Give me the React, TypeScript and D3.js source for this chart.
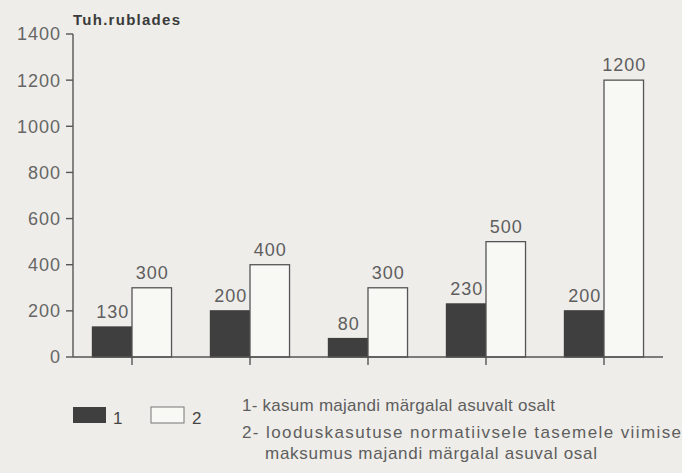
import React from "react";
import * as d3 from "d3";

const categories = ["A", "B", "C", "D", "E"];
const series1 = [130, 200, 80, 230, 200];
const series2 = [300, 400, 300, 500, 1200];
const yTicks = [0, 200, 400, 600, 800, 1000, 1200, 1400];
const seriesKeys = ["1", "2"];
const legendLines = [
  "1- kasum majandi märgalal asuvalt osalt",
  "2- looduskasutuse normatiivsele tasemele viimise",
  "maksumus majandi märgalal asuval osal",
];

const W = 682;
const H = 473;
const BG = "#eeede9";
const INK = "#555";
const TXT = "#5e5e5e";
const DARK = "#3f3f3f";
const FONT = "'Liberation Sans', Arial, Helvetica, sans-serif";

export default function App() {
  const x = d3
    .scaleBand<string>()
    .domain(categories)
    .range([73, 663])
    .paddingInner(0.33)
    .paddingOuter(0.165);
  const xs = d3.scaleBand<string>().domain(seriesKeys).range([0, x.bandwidth()]);
  const y = d3.scaleLinear().domain([0, 1400]).range([357, 34]);

  const bars: { cat: string; key: string; v: number }[] = [];
  categories.forEach((c, i) => {
    bars.push({ cat: c, key: "1", v: series1[i] });
    bars.push({ cat: c, key: "2", v: series2[i] });
  });

  return (
    <svg
      width={W}
      height={H}
      style={{ position: "absolute", left: 0, top: 0, display: "block" }}
    >
      <rect x={0} y={0} width={W} height={H} fill={BG} />
      {/* axis title */}
      <text
        x={73}
        y={25}
        fontFamily={FONT}
        fontWeight="bold"
        fontSize={15}
        fill="#3a3a3a"
        textLength={107}
        lengthAdjust="spacing"
      >
        Tuh.rublades
      </text>
      {/* y axis */}
      <line x1={73} x2={73} y1={y(1400)} y2={y(0)} stroke={INK} strokeWidth={1.4} />
      {yTicks.map((t) => (
        <g key={t}>
          <line x1={66} x2={73} y1={y(t)} y2={y(t)} stroke={INK} strokeWidth={1.4} />
          <text
            x={61}
            y={y(t)}
            dy="0.36em"
            textAnchor="end"
            fontFamily={FONT}
            fontSize={18}
            letterSpacing={1}
            fill="#666"
          >
            {t}
          </text>
        </g>
      ))}
      {/* bars */}
      {bars.map((b, i) => {
        const bx = (x(b.cat) as number) + (xs(b.key) as number);
        const bw = xs.bandwidth();
        const top = y(b.v);
        return (
          <g key={i}>
            <rect
              x={bx}
              y={top}
              width={bw}
              height={y(0) - top}
              fill={b.key === "1" ? DARK : "#f8f8f5"}
              stroke={b.key === "1" ? DARK : INK}
              strokeWidth={1.3}
            />
            <text
              x={bx + bw / 2 + 0.5}
              y={top - 9}
              textAnchor="middle"
              fontFamily={FONT}
              fontSize={18}
              letterSpacing={1}
              fill={TXT}
            >
              {b.v}
            </text>
          </g>
        );
      })}
      {/* x axis */}
      <line x1={73} x2={663} y1={y(0)} y2={y(0)} stroke={INK} strokeWidth={1.4} />
      {categories.map((c) => {
        const cx = (x(c) as number) + x.bandwidth() / 2;
        return (
          <line key={c} x1={cx} x2={cx} y1={y(0)} y2={y(0) + 8} stroke={INK} strokeWidth={1.4} />
        );
      })}
      {/* legend */}
      <rect x={73} y={407} width={33} height={16} fill={DARK} />
      <text x={113} y={424} fontFamily={FONT} fontSize={17} fill="#444">
        1
      </text>
      <rect x={151} y={407} width={33} height={16} fill="#f8f8f5" stroke="#777" strokeWidth={1} />
      <text x={192} y={424} fontFamily={FONT} fontSize={17} fill="#444">
        2
      </text>
      <text x={242} y={411} fontFamily={FONT} fontSize={17} fill={TXT} textLength={313} lengthAdjust="spacing">
        {legendLines[0]}
      </text>
      <text x={242} y={438} fontFamily={FONT} fontSize={17} fill={TXT} textLength={439} lengthAdjust="spacing">
        {legendLines[1]}
      </text>
      <text x={265} y={459} fontFamily={FONT} fontSize={17} fill={TXT} textLength={332} lengthAdjust="spacing">
        {legendLines[2]}
      </text>
    </svg>
  );
}
